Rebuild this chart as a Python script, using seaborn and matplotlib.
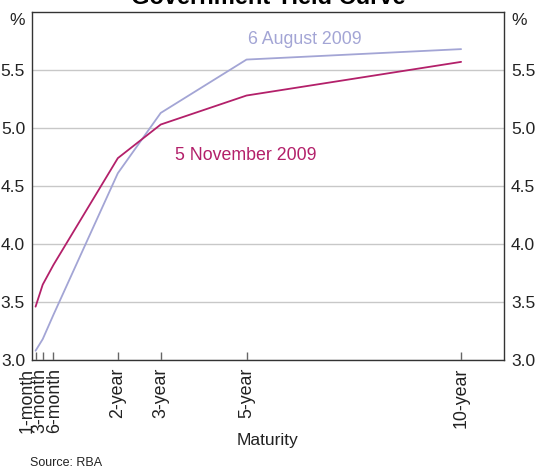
import matplotlib
matplotlib.use("Agg")
import matplotlib.pyplot as plt
from matplotlib.transforms import ScaledTranslation
import seaborn as sns
import pandas as pd

# Data
maturity_years = [1/12, 0.25, 0.5, 2, 3, 5, 10]
tick_labels = ["1-month", "3-month", "6-month", "2-year", "3-year", "5-year", "10-year"]
aug_2009 = [3.08, 3.18, 3.39, 4.61, 5.13, 5.59, 5.68]
nov_2009 = [3.46, 3.65, 3.82, 4.74, 5.03, 5.28, 5.57]
series_names = ["6 August 2009", "5 November 2009"]

df = pd.DataFrame({
    "Maturity": maturity_years * 2,
    "Yield": aug_2009 + nov_2009,
    "Date": [series_names[0]] * len(aug_2009) + [series_names[1]] * len(nov_2009),
})

sns.set_theme(style="white")
plt.rcParams["font.family"] = ["Liberation Sans", "DejaVu Sans"]

colors = {series_names[0]: "#a3a5d5", series_names[1]: "#b3206a"}
txt = "#222222"

fig = plt.figure(figsize=(5.39, 4.70), dpi=100)
ax = fig.add_axes([32/539, 1 - 360/470, (504 - 32)/539, (360 - 12)/470])

sns.lineplot(data=df, x="Maturity", y="Yield", hue="Date", palette=colors,
             linewidth=1.3, legend=False, ax=ax)

ax.set_xlim(0, 11)
ax.set_ylim(3.0, 6.0)
yt = [3.0, 3.5, 4.0, 4.5, 5.0, 5.5]
ax.set_yticks(yt)
ax.set_yticklabels([f"{v:.1f}" for v in yt])
ax.yaxis.grid(True, color="#c8c8c8", linewidth=1.0)
ax.set_axisbelow(True)
ax.tick_params(axis="y", left=False, right=False, length=0, labelleft=True,
               labelright=True, labelsize=12.5, colors=txt)
ax.tick_params(axis="y", which="major", pad=5)
for lab in ax.get_yticklabels(which="major"):
    pass

ax.set_xticks(maturity_years)
ax.set_xticklabels([""] * len(tick_labels))
ax.tick_params(axis="x", direction="in", length=6, width=1, color="#666666",
               bottom=True)

# x tick labels (first three nudged apart so they do not overlap)
nudge_px = [-8.5, -3.0, 1.5, 0, 0, 0, 0]
for xv, lab, dx in zip(maturity_years, tick_labels, nudge_px):
    tr = ax.get_xaxis_transform() + ScaledTranslation(dx/100, -8/100, fig.dpi_scale_trans)
    ax.text(xv, 0, lab, transform=tr, rotation=90, ha="center", va="top",
            fontsize=12.8, color=txt)

for s in ax.spines.values():
    s.set_color("#333333")
    s.set_linewidth(1.0)

ax.set_xlabel("")
ax.set_ylabel("")

# Percent labels
ax.text(-0.015, 0.975, "%", transform=ax.transAxes, ha="right", va="center",
        fontsize=12.5, color=txt)
ax.text(1.015, 0.975, "%", transform=ax.transAxes, ha="left", va="center",
        fontsize=12.5, color=txt)

# Series labels
ax.text(6.36, 5.76, series_names[0], color=colors[series_names[0]], fontsize=12.8,
        ha="center", va="center")
ax.text(4.98, 4.76, series_names[1], color=colors[series_names[1]], fontsize=12.8,
        ha="center", va="center")

fig.text(268/539, 1 - 441/470, "Maturity", ha="center", va="center",
         fontsize=12.5, color=txt)
fig.text(30/539, 1 - 463/470, "Source: RBA", ha="left", va="center",
         fontsize=9, color=txt)
fig.text(268/539, 1 - 4/470, "Government Yield Curve", ha="center", va="baseline",
         fontsize=17, fontweight="bold", color="#000000")

fig.savefig("out.png", dpi=100)
